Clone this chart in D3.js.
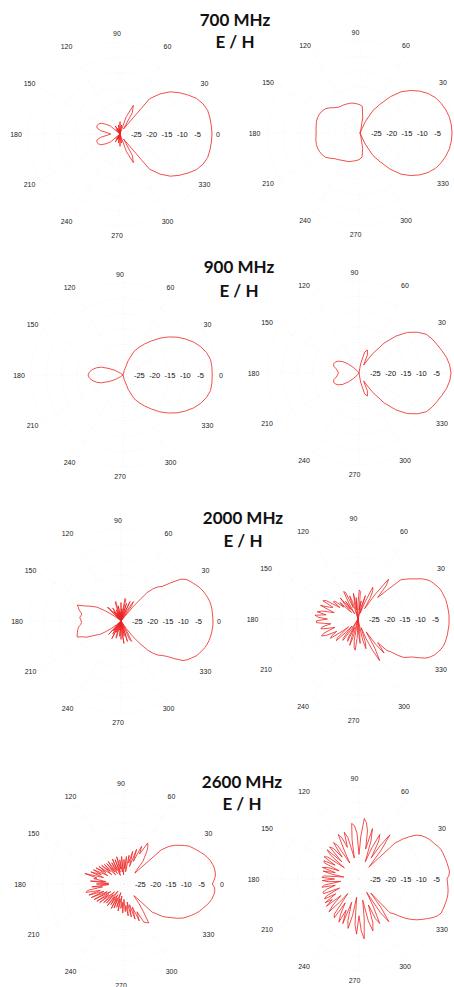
<!DOCTYPE html>
<html>
<head>
<meta charset="utf-8">
<script src="https://cdn.jsdelivr.net/npm/d3@7"></script>
<style>
  html, body { margin: 0; padding: 0; background: #fff; }
  svg { display: block; }
  .title { font-family: Lato, "Open Sans", sans-serif; font-weight: 700; font-size: 17px; fill: #111; }
  .ang { font-family: "Liberation Sans", Arial, sans-serif; font-size: 7px; fill: #222; }
  .rad { font-family: "Liberation Sans", Arial, sans-serif; font-size: 7.5px; fill: #111; }
  .grid { fill: none; stroke: #efefef; stroke-width: 0.6; stroke-dasharray: 1 2; }
  .trace { fill: none; stroke: #ee2222; stroke-width: 0.8; stroke-linejoin: round; }
</style>
</head>
<body>
<div id="chart"></div>
<script>
// Titles and ticks
const bandTitles = ["700 MHz", "900 MHz", "2000 MHz", "2600 MHz"];
const planeLabel = "E / H";
const angleTicks = [0, 30, 60, 90, 120, 150, 180, 210, 240, 270, 300, 330];
const radialTicks = [-25, -20, -15, -10, -5];
const dbFloor = -30;
const dbTop = 0;

// Patterns in dB, evenly spaced samples starting at 0 deg, counter-clockwise
// 700 / 900 MHz: 5 deg steps
const e700 = [
  0, -0.1, -0.2, -0.4, -1.2, -2.5, -4.5, -6.5, -8.6, -11.5, -15, -28,
  -22, -19.7, -24, -30, -27, -30, -26, -30, -27, -30, -28, -30,
  -27, -30, -28, -30, -26, -24.5, -23, -22.3, -22, -22.2, -23.5, -26,
  -27, -26, -23.5, -22.2, -22, -22.3, -23, -24.5, -26, -30, -28, -30,
  -27, -30, -28, -30, -27, -30, -26, -30, -27, -30, -24, -19.7,
  -22, -28, -15, -11.5, -8.6, -6.5, -4.5, -2.5, -1.2, -0.4, -0.2, -0.1
];
const h700 = [
  0, -0.1, -0.4, -1.0, -1.8, -2.8, -4.3, -6.2, -8.4, -11, -14.5, -18.5,
  -21.5, -26, -30, -29, -25, -21.3, -20.8, -20.5, -20.2, -19.9, -19.7, -19.6,
  -19.4, -19.3, -19.0, -18.3, -17.2, -16.2, -15.7, -15.4, -15.3, -15.3, -15.5, -15.6,
  -15.7, -15.6, -15.4, -15.3, -15.3, -15.5, -15.8, -16.2, -17.2, -18.2, -18.7, -19.2,
  -19.6, -19.8, -20.1, -20.5, -20.8, -21.1, -21.5, -22.2, -25, -29, -30, -26,
  -21.5, -18.5, -14.5, -11, -8.4, -6.2, -4.3, -2.8, -1.8, -1.0, -0.4, -0.1
];
const e900 = [
  -0.9, -0.9, -1.0, -1.8, -3.0, -4.6, -6.5, -8.5, -10.7, -13.0, -15.5, -17.6,
  -19.6, -21.5, -25, -28.5, -30, -30, -30, -30, -30, -30, -30, -30,
  -30, -30, -30, -30, -30, -29, -27, -25, -22.5, -21, -19.8, -19,
  -18.6, -19, -19.8, -21, -22.5, -25, -27, -29, -30, -30, -30, -30,
  -30, -30, -30, -30, -30, -30, -30, -30, -30, -28.5, -25, -21.5,
  -19.6, -17.6, -15.5, -13.0, -10.7, -8.5, -6.5, -4.6, -3.0, -1.8, -1.0, -0.9
];
const h900 = [
  0, -0.3, -1.0, -2.0, -2.9, -3.7, -4.7, -6.8, -9.4, -13, -17.3, -22.5,
  -27, -23.5, -22, -23, -27, -30, -30, -30, -30, -30, -30, -30,
  -30, -30, -29, -27.5, -25.5, -23.5, -22.3, -21.5, -21.2, -21.5, -22.5, -23,
  -23.3, -23, -22.5, -21.5, -21.2, -21.5, -22.3, -23.5, -25.5, -27.5, -29, -30,
  -30, -30, -30, -30, -30, -30, -30, -30, -27, -23, -22, -23.5,
  -27, -22.5, -17.3, -13, -9.4, -6.8, -4.7, -3.7, -2.9, -2.0, -1.0, -0.3
];
// 2000 / 2600 MHz: 2.5 deg steps
const e2000 = [
  0, -0.05, -0.1, -0.1, -0.2, -0.4, -0.7, -1.1, -1.5, -2.0, -2.7, -3.4,
  -4.0, -4.8, -6.2, -9.5, -12.5, -13.5, -15.0, -17.5, -24, -30, -24, -22.5,
  -26, -30, -23, -27, -30, -24, -30, -22.8, -22.5, -30, -26, -30,
  -24, -30, -27, -30, -25, -30, -23.4, -24, -30, -26, -30, -27,
  -30, -25, -30, -26, -30, -24, -23.8, -30, -30, -28, -26, -23.5,
  -21, -19.8, -18.5, -17.2, -14.8, -15.5, -15.8, -16.5, -17, -16.8, -16.5, -16.8,
  -17.0, -17.1, -16.8, -16.2, -15.8, -15.5, -15.3, -15, -14.8, -16.5, -17.5, -19.5,
  -21, -21.8, -24, -26, -28, -30, -30, -24, -30, -26, -30, -25,
  -30, -23.5, -30, -26, -30, -24.5, -24.2, -30, -27, -30, -25, -30,
  -24, -30, -26, -22.6, -30, -25, -30, -23, -27, -30, -23.5, -22.5,
  -26, -30, -27, -23.5, -20.4, -17, -15, -13.5, -12.5, -11, -8.5, -6,
  -4.8, -4, -3, -2.4, -1.8, -1.3, -0.9, -0.6, -0.4, -0.2, -0.1, 0
];
const h2000 = [
  -0.3, -0.3, -0.4, -0.5, -0.6, -0.7, -1.0, -1.2, -1.5, -2.1, -2.7, -3.3,
  -4.3, -5.6, -7.2, -8.5, -9.8, -11.1, -17, -20.5, -15.5, -13.6, -20, -26,
  -22, -19.5, -18.6, -24, -28, -22, -26, -30, -24, -27, -21, -20.5,
  -25, -30, -23, -27, -21.5, -25, -30, -24, -22, -26, -20.5, -19.9,
  -24, -28, -23, -26, -21, -24, -27, -22, -24, -20.5, -20.2, -23,
  -18, -17.1, -21, -20, -17, -20, -22, -18, -16.5, -19.5, -15.9, -17,
  -20, -16.5, -16.4, -19, -21, -18, -17.5, -20, -22, -18, -16.9, -18.5,
  -22, -20, -19, -23, -26, -21, -20, -24, -27, -22, -21.5, -26,
  -30, -23, -22, -27, -25, -21, -24, -30, -23, -20.5, -19.8, -24,
  -30, -25, -22, -26, -30, -23, -20, -22, -27, -23, -18.6, -14.7,
  -19, -25, -20, -16, -20, -16, -14.9, -12.5, -10.5, -9.5, -8.4, -6.5,
  -4.5, -3.3, -2.4, -1.8, -1.2, -0.8, -0.6, -0.5, -0.4, -0.4, -0.3, -0.3
];
const e2600 = [
  -1.2, -0.6, -0.1, 0, -0.1, -0.4, -0.8, -1.4, -2.1, -3.0, -3.8, -4.6,
  -5.4, -6.6, -8.0, -9.3, -11, -13.5, -25, -24, -20.5, -19, -17, -15.5,
  -14.6, -19, -16.4, -22, -18, -24, -19, -23, -20.5, -26, -21, -25,
  -22, -27, -21, -26, -22, -25, -20.8, -26, -21.5, -27, -21, -25,
  -22, -26, -21, -25, -21.3, -26, -21, -24, -20.5, -25, -20, -23,
  -19.5, -24, -19, -22, -18.5, -23, -16.8, -21, -20, -24, -19, -25,
  -21, -25, -19.5, -23, -18, -17.3, -22, -18, -23, -18.5, -24, -19,
  -25, -19.5, -24, -20, -26, -21, -25, -21.5, -27, -21, -25, -22,
  -26, -21, -25, -21.5, -27, -22, -25, -21, -26, -22, -24, -20.5,
  -25, -21, -23, -19.5, -24, -19, -23, -18, -22, -17, -20, -16,
  -15.5, -15, -19, -22, -25, -24, -17, -15.6, -13.5, -12.2, -10.8, -9.2,
  -7.8, -6.8, -5.8, -4.8, -3.9, -3.2, -2.4, -1.6, -1.0, -0.6, -0.3, -0.4
];
const h2600 = [
  -1.3, -0.6, -0.4, -0.6, -0.8, -1.0, -1.2, -1.4, -1.6, -2.2, -2.8, -3.3,
  -3.8, -4.5, -5.3, -6.5, -8.5, -10.8, -13.5, -22, -25, -18, -12.4, -17,
  -22, -16, -14, -19, -24, -17, -13, -20, -14, -11.5, -10.2, -16,
  -22, -15, -12.5, -11.7, -17, -23, -16, -14, -19, -15.5, -14, -20,
  -24, -17, -15.5, -21, -17, -15.8, -22, -15.9, -18, -24, -17.5, -16.5,
  -21, -17.1, -17.5, -23, -19, -17.5, -22, -18, -21, -25, -18.5, -17.9,
  -22, -18, -20, -24, -18.5, -17.6, -22, -19, -17.5, -17.5, -23, -18,
  -17, -21, -16.5, -19, -16.1, -22, -18, -15.5, -20, -24, -16, -15,
  -21, -17, -14.5, -19, -14.5, -22, -16, -13.5, -18, -24, -15, -12,
  -18, -13, -10.4, -17, -23, -16, -12.5, -15, -21, -16, -14, -20,
  -25, -17, -13, -18, -24, -15, -14, -12, -10, -8.3, -6.8, -5.5,
  -4.2, -2.8, -1.7, -1.0, -0.9, -0.8, -0.7, -0.6, -0.6, -0.7, -0.9, -1.1
];
const patterns = [[e700, h700], [e900, h900], [e2000, h2000], [e2600, h2600]];

// Layout
const width = 454, height = 987;
const R = 92, labelR = 101;
const centers = [
  [[120, 134], [360, 133]],
  [[123, 375], [359, 373]],
  [[121, 621], [358, 619]],
  [[124, 884], [359, 879]]
];
const labelShift = [-3, -4.5];
const titlePos = [[235, 26, 47.5], [239, 273, 297], [243, 524, 546.5], [242, 788, 810]];

const svg = d3.select("#chart").append("svg")
  .attr("width", width)
  .attr("height", height)
  .attr("viewBox", `0 0 ${width} ${height}`);

svg.append("rect").attr("width", width).attr("height", height).attr("fill", "#fff");

const rScale = d3.scaleLinear().domain([dbFloor, dbTop]).range([0, R]).clamp(true);
const toRad = deg => (90 - deg) * Math.PI / 180;

const radial = d3.lineRadial()
  .angle(d => toRad(d.a))
  .radius(d => rScale(d.db))
  .curve(d3.curveLinearClosed);

patterns.forEach((pair, row) => {
  pair.forEach((values, col) => {
    const [cx, cy] = centers[row][col];
    const g = svg.append("g").attr("transform", `translate(${cx},${cy})`);

    // faint dotted grid
    g.selectAll("circle.grid")
      .data([...radialTicks, dbTop])
      .enter().append("circle")
      .attr("class", "grid")
      .attr("r", d => rScale(d));

    g.selectAll("line.grid")
      .data(angleTicks)
      .enter().append("line")
      .attr("class", "grid")
      .attr("x1", 0).attr("y1", 0)
      .attr("x2", d => R * Math.cos(d * Math.PI / 180))
      .attr("y2", d => -R * Math.sin(d * Math.PI / 180));

    // pattern trace
    const pts = values.map((db, i) => ({ a: i * 360 / values.length, db }));
    g.append("path")
      .datum(pts)
      .attr("class", "trace")
      .attr("d", radial);

    // radial labels along 0 deg
    g.selectAll("text.rad")
      .data(radialTicks)
      .enter().append("text")
      .attr("class", "rad")
      .attr("text-anchor", "middle")
      .attr("x", d => rScale(d) + 1)
      .attr("y", 2.6)
      .text(d => d);

    // angle labels (the right column's 0 falls off the page, as in the source)
    const angX = d => labelShift[col] + labelR * Math.cos(d * Math.PI / 180);
    g.selectAll("text.ang")
      .data(angleTicks.filter(d => cx + angX(d) + 4 < width))
      .enter().append("text")
      .attr("class", "ang")
      .attr("text-anchor", "middle")
      .attr("x", angX)
      .attr("y", d => -labelR * Math.sin(d * Math.PI / 180) + 2.5)
      .text(d => d);
  });

  const [tx, ty1, ty2] = titlePos[row];
  svg.append("text").attr("class", "title")
    .attr("text-anchor", "middle")
    .attr("x", tx).attr("y", ty1)
    .text(bandTitles[row]);
  svg.append("text").attr("class", "title")
    .attr("text-anchor", "middle")
    .attr("x", tx).attr("y", ty2)
    .text(planeLabel);
});
</script>
</body>
</html>
